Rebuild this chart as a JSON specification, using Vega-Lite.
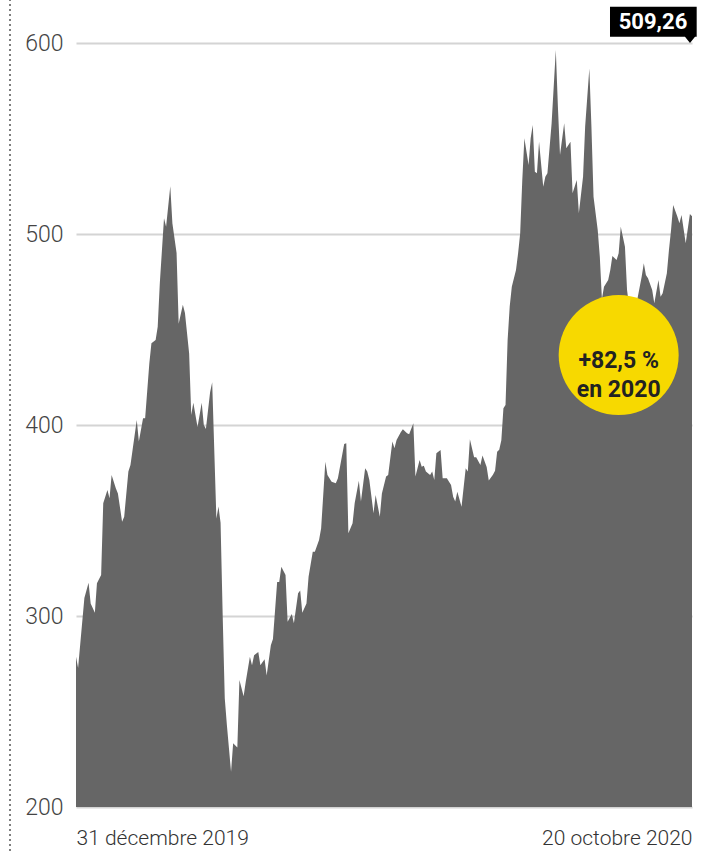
{
  "$schema": "https://vega.github.io/schema/vega-lite/v6.json",
  "width": 616,
  "height": 764,
  "autosize": {"type": "none"},
  "padding": {"left": 76, "top": 43, "right": 23, "bottom": 44},
  "background": "white",
  "config": {"view": {"stroke": null}, "font": "Roboto"},
  "layer": [
    {
      "data": {"values": [
        {"d": "2019-12-31", "v": 278.7}, {"d": "2020-01-01", "v": 272.8}, {"d": "2020-01-04", "v": 309.4}, {"d": "2020-01-06", "v": 317.4},
        {"d": "2020-01-07", "v": 306.6}, {"d": "2020-01-09", "v": 301.7}, {"d": "2020-01-10", "v": 317.1}, {"d": "2020-01-12", "v": 321.5},
        {"d": "2020-01-13", "v": 359}, {"d": "2020-01-15", "v": 366}, {"d": "2020-01-16", "v": 361.6}, {"d": "2020-01-17", "v": 373.8},
        {"d": "2020-01-19", "v": 366.9}, {"d": "2020-01-20", "v": 364.2}, {"d": "2020-01-22", "v": 349.4}, {"d": "2020-01-23", "v": 352},
        {"d": "2020-01-25", "v": 375.6}, {"d": "2020-01-26", "v": 379}, {"d": "2020-01-27", "v": 386.9}, {"d": "2020-01-29", "v": 402.6},
        {"d": "2020-01-30", "v": 391.3}, {"d": "2020-02-01", "v": 403.5}, {"d": "2020-02-02", "v": 403.5}, {"d": "2020-02-04", "v": 432.3},
        {"d": "2020-02-05", "v": 442.8}, {"d": "2020-02-07", "v": 444.5}, {"d": "2020-02-08", "v": 451.5}, {"d": "2020-02-09", "v": 474.2},
        {"d": "2020-02-11", "v": 508.2}, {"d": "2020-02-12", "v": 503.8}, {"d": "2020-02-14", "v": 525}, {"d": "2020-02-15", "v": 505.6},
        {"d": "2020-02-17", "v": 490}, {"d": "2020-02-18", "v": 453}, {"d": "2020-02-20", "v": 463}, {"d": "2020-02-21", "v": 458.7},
        {"d": "2020-02-23", "v": 437.4}, {"d": "2020-02-24", "v": 405.3}, {"d": "2020-02-25", "v": 411.7}, {"d": "2020-02-27", "v": 398.9},
        {"d": "2020-02-29", "v": 411.7}, {"d": "2020-03-01", "v": 400}, {"d": "2020-03-02", "v": 397.9}, {"d": "2020-03-04", "v": 417.1},
        {"d": "2020-03-05", "v": 422.4}, {"d": "2020-03-07", "v": 351}, {"d": "2020-03-08", "v": 357.3}, {"d": "2020-03-09", "v": 348.8},
        {"d": "2020-03-10", "v": 300.7}, {"d": "2020-03-11", "v": 256.9}, {"d": "2020-03-12", "v": 243}, {"d": "2020-03-14", "v": 218.4},
        {"d": "2020-03-15", "v": 233.4}, {"d": "2020-03-17", "v": 231.2}, {"d": "2020-03-18", "v": 266.5}, {"d": "2020-03-20", "v": 258},
        {"d": "2020-03-21", "v": 265.4}, {"d": "2020-03-23", "v": 278.7}, {"d": "2020-03-24", "v": 274.2}, {"d": "2020-03-25", "v": 279.5},
        {"d": "2020-03-27", "v": 281.1}, {"d": "2020-03-28", "v": 274.2}, {"d": "2020-03-30", "v": 277.4}, {"d": "2020-03-31", "v": 268.8},
        {"d": "2020-04-02", "v": 284.7}, {"d": "2020-04-03", "v": 287.9}, {"d": "2020-04-05", "v": 317.8}, {"d": "2020-04-06", "v": 317.8},
        {"d": "2020-04-07", "v": 325.8}, {"d": "2020-04-09", "v": 321.5}, {"d": "2020-04-10", "v": 297}, {"d": "2020-04-12", "v": 301},
        {"d": "2020-04-13", "v": 296.2}, {"d": "2020-04-15", "v": 311.9}, {"d": "2020-04-16", "v": 313.3}, {"d": "2020-04-17", "v": 301.7},
        {"d": "2020-04-19", "v": 306.6}, {"d": "2020-04-20", "v": 320.6}, {"d": "2020-04-22", "v": 333.7}, {"d": "2020-04-23", "v": 333.7},
        {"d": "2020-04-25", "v": 339.8}, {"d": "2020-04-26", "v": 345.9}, {"d": "2020-04-28", "v": 380.8}, {"d": "2020-04-29", "v": 373.8},
        {"d": "2020-05-01", "v": 370.3}, {"d": "2020-05-03", "v": 369.5}, {"d": "2020-05-04", "v": 372.1}, {"d": "2020-05-05", "v": 378.2},
        {"d": "2020-05-07", "v": 390.1}, {"d": "2020-05-08", "v": 390.4}, {"d": "2020-05-09", "v": 343.3}, {"d": "2020-05-11", "v": 348.6},
        {"d": "2020-05-12", "v": 359}, {"d": "2020-05-14", "v": 370.8}, {"d": "2020-05-15", "v": 359.9}, {"d": "2020-05-17", "v": 377.3},
        {"d": "2020-05-18", "v": 375.6}, {"d": "2020-05-19", "v": 371.2}, {"d": "2020-05-21", "v": 353.8}, {"d": "2020-05-22", "v": 363.4},
        {"d": "2020-05-24", "v": 352}, {"d": "2020-05-25", "v": 364.2}, {"d": "2020-05-27", "v": 373}, {"d": "2020-05-28", "v": 373.8},
        {"d": "2020-05-30", "v": 391.3}, {"d": "2020-05-31", "v": 387.8}, {"d": "2020-06-01", "v": 392.1}, {"d": "2020-06-03", "v": 396.2},
        {"d": "2020-06-04", "v": 397.8}, {"d": "2020-06-06", "v": 395.7}, {"d": "2020-06-07", "v": 395.1}, {"d": "2020-06-09", "v": 400.9},
        {"d": "2020-06-10", "v": 373}, {"d": "2020-06-12", "v": 381.7}, {"d": "2020-06-13", "v": 378.2}, {"d": "2020-06-14", "v": 378.7},
        {"d": "2020-06-15", "v": 375.6}, {"d": "2020-06-17", "v": 373.8}, {"d": "2020-06-18", "v": 375.6}, {"d": "2020-06-19", "v": 371.2},
        {"d": "2020-06-20", "v": 385.2}, {"d": "2020-06-22", "v": 386.9}, {"d": "2020-06-23", "v": 372.1}, {"d": "2020-06-25", "v": 372.1},
        {"d": "2020-06-27", "v": 368.6}, {"d": "2020-06-28", "v": 362.5}, {"d": "2020-06-29", "v": 359.9}, {"d": "2020-06-30", "v": 365.1},
        {"d": "2020-07-02", "v": 357.2}, {"d": "2020-07-04", "v": 377.3}, {"d": "2020-07-05", "v": 375.6}, {"d": "2020-07-06", "v": 392.5},
        {"d": "2020-07-08", "v": 383.1}, {"d": "2020-07-09", "v": 383.1}, {"d": "2020-07-11", "v": 379}, {"d": "2020-07-12", "v": 384},
        {"d": "2020-07-14", "v": 378}, {"d": "2020-07-15", "v": 371}, {"d": "2020-07-17", "v": 374}, {"d": "2020-07-18", "v": 376},
        {"d": "2020-07-19", "v": 386}, {"d": "2020-07-20", "v": 387}, {"d": "2020-07-21", "v": 392}, {"d": "2020-07-22", "v": 408.8},
        {"d": "2020-07-23", "v": 410.5}, {"d": "2020-07-24", "v": 444.5}, {"d": "2020-07-25", "v": 462}, {"d": "2020-07-26", "v": 472.4},
        {"d": "2020-07-28", "v": 481.2}, {"d": "2020-07-29", "v": 489.9}, {"d": "2020-07-30", "v": 500.4}, {"d": "2020-07-31", "v": 528.3},
        {"d": "2020-08-01", "v": 550.1}, {"d": "2020-08-03", "v": 536.1}, {"d": "2020-08-04", "v": 550.1}, {"d": "2020-08-05", "v": 557.1},
        {"d": "2020-08-06", "v": 532.6}, {"d": "2020-08-07", "v": 531.8}, {"d": "2020-08-08", "v": 548.3}, {"d": "2020-08-10", "v": 524.8},
        {"d": "2020-08-11", "v": 530}, {"d": "2020-08-12", "v": 531.8}, {"d": "2020-08-14", "v": 558}, {"d": "2020-08-16", "v": 596.3},
        {"d": "2020-08-17", "v": 566.6}, {"d": "2020-08-18", "v": 541.4}, {"d": "2020-08-20", "v": 558}, {"d": "2020-08-21", "v": 544.9},
        {"d": "2020-08-23", "v": 548.3}, {"d": "2020-08-24", "v": 521.3}, {"d": "2020-08-26", "v": 528.3}, {"d": "2020-08-27", "v": 510.8},
        {"d": "2020-08-29", "v": 530}, {"d": "2020-08-30", "v": 556.2}, {"d": "2020-09-01", "v": 586.7}, {"d": "2020-09-02", "v": 556.2},
        {"d": "2020-09-03", "v": 519.5}, {"d": "2020-09-05", "v": 502.1}, {"d": "2020-09-06", "v": 488.1}, {"d": "2020-09-07", "v": 466},
        {"d": "2020-09-08", "v": 472.4}, {"d": "2020-09-10", "v": 475.9}, {"d": "2020-09-11", "v": 481.2}, {"d": "2020-09-12", "v": 488.5},
        {"d": "2020-09-14", "v": 486.4}, {"d": "2020-09-15", "v": 489.9}, {"d": "2020-09-16", "v": 503.8}, {"d": "2020-09-18", "v": 493.3},
        {"d": "2020-09-19", "v": 470.7}, {"d": "2020-09-20", "v": 462}, {"d": "2020-09-21", "v": 458}, {"d": "2020-09-23", "v": 462},
        {"d": "2020-09-24", "v": 466.3}, {"d": "2020-09-26", "v": 477.7}, {"d": "2020-09-27", "v": 484.7}, {"d": "2020-09-28", "v": 478.5},
        {"d": "2020-09-29", "v": 476.8}, {"d": "2020-10-01", "v": 470.7}, {"d": "2020-10-02", "v": 463.7}, {"d": "2020-10-04", "v": 475.9},
        {"d": "2020-10-05", "v": 467.2}, {"d": "2020-10-06", "v": 469}, {"d": "2020-10-08", "v": 479.4}, {"d": "2020-10-09", "v": 491.6},
        {"d": "2020-10-10", "v": 502.1}, {"d": "2020-10-11", "v": 515.2}, {"d": "2020-10-13", "v": 509.1}, {"d": "2020-10-14", "v": 505.6},
        {"d": "2020-10-15", "v": 510}, {"d": "2020-10-17", "v": 495.1}, {"d": "2020-10-19", "v": 510.5}, {"d": "2020-10-20", "v": 509.26}
      ]},
      "mark": {"type": "area", "color": "#666666", "interpolate": "linear"},
      "encoding": {
        "x": {
          "field": "d", "type": "temporal",
          "scale": {"domain": [{"year": 2019, "month": 12, "date": 31, "utc": true}, {"year": 2020, "month": 10, "date": 20, "utc": true}]},
          "axis": {
            "values": [{"year": 2019, "month": 12, "date": 31, "utc": true}, {"year": 2020, "month": 10, "date": 20, "utc": true}],
            "labelExpr": "datum.index < 0.5 ? '31 décembre 2019' : '20 octobre 2020'",
            "labelFlush": true, "labelOverlap": false, "domain": false, "ticks": false, "grid": false, "title": null,
            "labelFont": "Roboto", "labelFontSize": 21, "labelFontWeight": 300, "labelColor": "#333333", "labelPadding": 20
          }
        },
        "y": {
          "field": "v", "type": "quantitative",
          "scale": {"domain": [200, 600], "zero": false, "nice": false},
          "axis": {
            "values": [200, 300, 400, 500, 600], "domain": false, "ticks": false, "grid": true,
            "gridColor": "#d4d4d4", "gridWidth": 2, "title": null,
            "labelFont": "Roboto", "labelFontSize": 23, "labelFontWeight": 300, "labelColor": "#444444", "labelPadding": 13
          }
        },
        "y2": {"datum": 200}
      }
    },
    {
      "data": {"values": [{}]},
      "mark": {"type": "rule", "color": "#555555", "strokeWidth": 1.5, "strokeDash": [2, 3]},
      "encoding": {
        "x": {"datum": {"year": 2019, "month": 11, "date": 29, "hours": 12, "utc": true}, "type": "temporal"},
        "y": {"datum": 623, "type": "quantitative"},
        "y2": {"datum": 177}
      }
    },
    {
      "data": {"values": [{}]},
      "mark": {"type": "point", "filled": true, "color": "#000000", "opacity": 1, "strokeWidth": 0, "size": 7396,
               "shape": "M -1.907 -0.844 L 0.109 -0.844 L 0.109 -0.1465 L 0.07 -0.1465 L -0.0465 0 L -0.163 -0.1465 L -1.907 -0.1465 Z"},
      "encoding": {
        "x": {"datum": {"year": 2020, "month": 10, "date": 20, "utc": true}, "type": "temporal"},
        "y": {"datum": 600, "type": "quantitative"}
      }
    },
    {
      "data": {"values": [{}]},
      "mark": {"type": "text", "text": "509,26", "color": "#ffffff", "font": "Roboto", "fontWeight": "bold", "fontSize": 22,
               "align": "center", "baseline": "middle", "dx": -39, "dy": -21},
      "encoding": {
        "x": {"datum": {"year": 2020, "month": 10, "date": 20, "utc": true}, "type": "temporal"},
        "y": {"datum": 600, "type": "quantitative"}
      }
    },
    {
      "data": {"values": [{}]},
      "mark": {"type": "point", "shape": "circle", "filled": true, "color": "#f7d900", "opacity": 1, "strokeWidth": 0, "size": 14400},
      "encoding": {
        "x": {"datum": {"year": 2020, "month": 9, "date": 15, "utc": true}, "type": "temporal"},
        "y": {"datum": 436.6, "type": "quantitative"}
      }
    },
    {
      "data": {"values": [{}]},
      "mark": {"type": "text", "text": ["+82,5 %", "en 2020"], "color": "#222222", "font": "Roboto", "fontWeight": "bold", "fontSize": 23,
               "lineHeight": 29, "align": "center", "baseline": "middle", "dy": 6},
      "encoding": {
        "x": {"datum": {"year": 2020, "month": 9, "date": 15, "utc": true}, "type": "temporal"},
        "y": {"datum": 436.6, "type": "quantitative"}
      }
    }
  ]
}
